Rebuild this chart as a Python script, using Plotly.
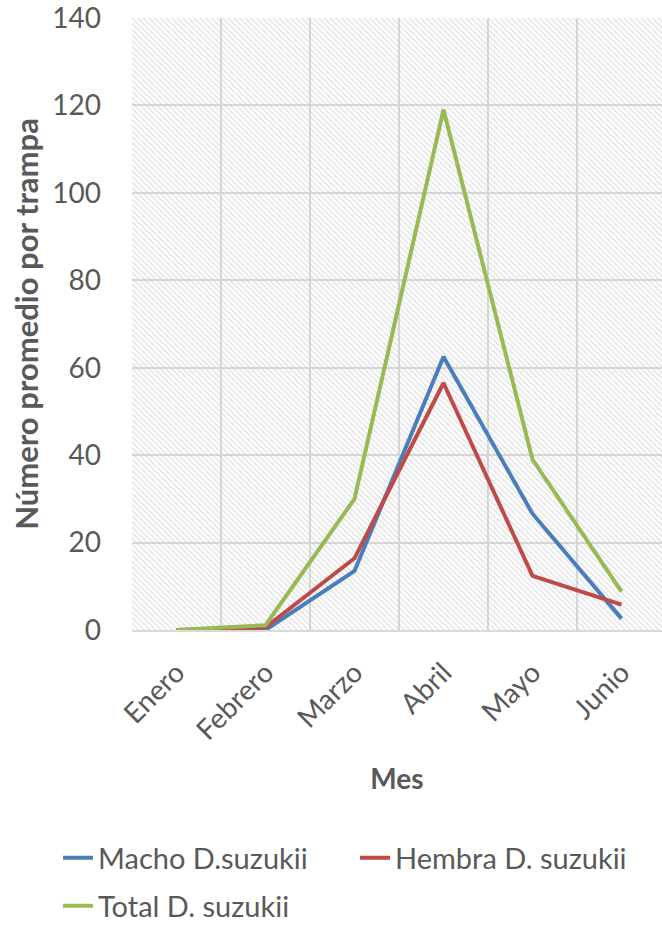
import plotly.graph_objects as go

months = ["Enero", "Febrero", "Marzo", "Abril", "Mayo", "Junio"]
macho = [0, 0, 13.5, 62.5, 26.6, 2.6]
hembra = [0, 0.6, 16.4, 56.5, 12.4, 5.8]
total = [0, 1.1, 30, 119, 39, 8.8]

Y_MAX = 140
Y_DTICK = 20

FONT = "Lato, 'Open Sans', sans-serif"
TXT = "#595959"
GRID = "#d9d9d9"

fig = go.Figure()

# hatched plot-area background (one full-width band per category, up to the axis top)
fig.add_trace(go.Bar(
    x=months, y=[Y_MAX] * len(months), width=1,
    marker=dict(color="rgba(0,0,0,0)", line=dict(width=0),
                pattern=dict(shape="\\", fgcolor="#c4c4c4", size=4,
                             solidity=0.35, fillmode="overlay")),
    showlegend=False, hoverinfo="skip",
))

series = [
    ("Macho D.suzukii", macho, "#4a7ebb", "legend"),
    ("Hembra D. suzukii", hembra, "#be4b48", "legend"),
    ("Total D. suzukii", total, "#98b954", "legend2"),
]
for name, vals, col, lg in series:
    fig.add_trace(go.Scatter(x=months, y=vals, name=name, mode="lines",
                             line=dict(color=col, width=4), legend=lg))

PLOT_L, PLOT_T, PLOT_B = 132, 18, 630
H = 926
dom_h = PLOT_B - PLOT_T


def py(ypix):
    return (PLOT_B - ypix) / dom_h


def px(xpix):
    return (xpix - PLOT_L) / (662 - PLOT_L)


leg_common = dict(orientation="h", xanchor="left", yanchor="middle",
                  font=dict(size=29, color=TXT), bgcolor="rgba(0,0,0,0)",
                  itemwidth=30)

fig.update_layout(
    width=662, height=H,
    margin=dict(l=PLOT_L, r=0, t=PLOT_T, b=H - PLOT_B, autoexpand=False),
    paper_bgcolor="white", plot_bgcolor="white",
    bargap=0,
    font=dict(family=FONT, color=TXT, size=28),
    showlegend=True,
    legend=dict(x=px(58), y=py(858), entrywidth=252, **leg_common),
    legend2=dict(x=px(58), y=py(906), **leg_common),
)

fig.update_xaxes(
    type="category", range=[-0.5, 5.455],
    tickson="boundaries", showgrid=True, gridcolor=GRID, gridwidth=2,
    showline=True, linecolor=GRID, linewidth=2,
    ticks="", tickangle=-45, ticklabelstandoff=13,
    tickfont=dict(size=28, color=TXT),
    title=dict(text="<b>Mes</b>", font=dict(size=28, color=TXT), standoff=24),
)
fig.update_yaxes(
    range=[0, Y_MAX], dtick=Y_DTICK, tick0=0,
    showgrid=True, gridcolor=GRID, gridwidth=2,
    zeroline=False, showline=False, ticks="",
    ticklabelstandoff=30, ticklabeloverflow="allow",
    tickfont=dict(size=28, color=TXT),
    title=dict(text="<b>Número promedio por trampa</b>",
               font=dict(size=31, color=TXT), standoff=4),
)

fig.write_html("out.html")
